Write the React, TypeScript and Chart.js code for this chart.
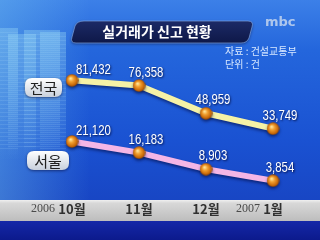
import React, { useEffect, useRef } from "react";
import { Chart, registerables } from "chart.js";

Chart.register(...registerables);

const months = ["10월", "11월", "12월", "1월"];
const yearMarks = ["2006", "", "", "2007"];
const nationwide = [81432, 76358, 48959, 33749];
const seoul = [21120, 16183, 8903, 3854];
const seriesNames = ["전국", "서울"];
const titleText = "실거래가 신고 현황";
const sourceText = "자료 : 건설교통부";
const unitText = "단위 : 건";
const logoText = "mbc";

const KR = "'Noto Sans CJK KR', 'Noto Sans', sans-serif";
const NUM = "'Liberation Sans', Arial, sans-serif";

function makeBall(): HTMLCanvasElement {
  const c = document.createElement("canvas");
  c.width = 13;
  c.height = 13;
  const g = c.getContext("2d")!;
  const grad = g.createRadialGradient(5, 4.5, 0.5, 6.5, 6.5, 6.5);
  grad.addColorStop(0, "#ffe49a");
  grad.addColorStop(0.35, "#f2a030");
  grad.addColorStop(0.8, "#c86808");
  grad.addColorStop(1, "#8a4200");
  g.fillStyle = grad;
  g.beginPath();
  g.arc(6.5, 6.5, 6.2, 0, Math.PI * 2);
  g.fill();
  return c;
}

function roundRect(ctx: CanvasRenderingContext2D, x: number, y: number, w: number, h: number, r: number) {
  ctx.beginPath();
  ctx.moveTo(x + r, y);
  ctx.lineTo(x + w - r, y);
  ctx.quadraticCurveTo(x + w, y, x + w, y + r);
  ctx.lineTo(x + w, y + h - r);
  ctx.quadraticCurveTo(x + w, y + h, x + w - r, y + h);
  ctx.lineTo(x + r, y + h);
  ctx.quadraticCurveTo(x, y + h, x, y + h - r);
  ctx.lineTo(x, y + r);
  ctx.quadraticCurveTo(x, y, x + r, y);
  ctx.closePath();
}

const decorPlugin = {
  id: "decor",
  beforeDraw(chart: any) {
    const ctx: CanvasRenderingContext2D = chart.ctx;
    const W = chart.width;
    const H = chart.height;
    ctx.save();
    // background
    const bg = ctx.createLinearGradient(0, 0, 0, 200);
    bg.addColorStop(0, "#3c80e8");
    bg.addColorStop(0.25, "#2466dc");
    bg.addColorStop(0.7, "#1a52d2");
    bg.addColorStop(1, "#1846c4");
    ctx.fillStyle = bg;
    ctx.fillRect(0, 0, W, 200);
    const side = ctx.createLinearGradient(0, 0, 90, 0);
    side.addColorStop(0, "rgba(120,200,240,0.38)");
    side.addColorStop(1, "rgba(120,200,240,0)");
    ctx.fillStyle = side;
    ctx.fillRect(0, 0, 90, 200);
    // faint buildings
    const blds = [
      [0, 28, 18],
      [8, 34, 28],
      [24, 30, 36],
      [40, 32, 26],
    ];
    for (const [bx, by, bw] of blds) {
      const bgr = ctx.createLinearGradient(0, by, 0, 160);
      bgr.addColorStop(0, "rgba(150,215,245,0.38)");
      bgr.addColorStop(1, "rgba(150,215,245,0)");
      ctx.fillStyle = bgr;
      ctx.fillRect(bx, by, bw, 160 - by);
      ctx.strokeStyle = "rgba(200,240,255,0.12)";
      ctx.lineWidth = 1;
      for (let yy = by + 4; yy < 150; yy += 4) {
        ctx.beginPath();
        ctx.moveTo(bx, yy + 0.5);
        ctx.lineTo(bx + bw, yy + 0.5);
        ctx.stroke();
      }
    }
    // bottom gray band
    const band = ctx.createLinearGradient(0, 200, 0, 221);
    band.addColorStop(0, "#f0f0f0");
    band.addColorStop(0.15, "#d8d8d8");
    band.addColorStop(1, "#bdbdbd");
    ctx.fillStyle = band;
    ctx.fillRect(0, 200, W, 21);
    const navy = ctx.createLinearGradient(0, 221, 0, H);
    navy.addColorStop(0, "#1428a8");
    navy.addColorStop(1, "#0c1a8c");
    ctx.fillStyle = navy;
    ctx.fillRect(0, 221, W, H - 221);
    // year marks
    const xs = chart.scales.x;
    ctx.font = "12px 'Liberation Serif', 'DejaVu Serif', serif";
    ctx.fillStyle = "#4a4a4a";
    ctx.textAlign = "right";
    ctx.textBaseline = "alphabetic";
    yearMarks.forEach((ym, i) => {
      if (!ym) return;
      const px = xs.getPixelForValue(i);
      ctx.fillText(ym, px - 13 + (i === 0 ? -4 : 0), 212);
    });
    // title banner
    ctx.save();
    ctx.shadowColor = "rgba(0,0,30,0.5)";
    ctx.shadowBlur = 3;
    ctx.shadowOffsetY = 1;
    ctx.beginPath();
    ctx.moveTo(84, 21);
    ctx.lineTo(248, 21);
    ctx.quadraticCurveTo(254, 21, 252, 27);
    ctx.lineTo(249, 38);
    ctx.quadraticCurveTo(247, 43, 241, 43);
    ctx.lineTo(76, 43);
    ctx.quadraticCurveTo(70, 43, 72, 37);
    ctx.lineTo(75, 26);
    ctx.quadraticCurveTo(77, 21, 84, 21);
    ctx.closePath();
    const tb = ctx.createLinearGradient(0, 21, 0, 43);
    tb.addColorStop(0, "#1c2a66");
    tb.addColorStop(1, "#0e1848");
    ctx.fillStyle = tb;
    ctx.fill();
    ctx.restore();
    ctx.strokeStyle = "rgba(140,180,240,0.6)";
    ctx.lineWidth = 1;
    ctx.stroke();
    ctx.fillStyle = "#ffffff";
    ctx.font = `bold 14px ${KR}`;
    ctx.textAlign = "center";
    ctx.textBaseline = "middle";
    ctx.fillText(titleText, 157, 32);
    // logo
    ctx.font = "bold 13px 'DejaVu Sans', sans-serif";
    ctx.fillStyle = "rgba(215,225,240,0.75)";
    ctx.textAlign = "left";
    ctx.fillText(logoText, 265, 23);
    // source / unit
    ctx.font = `10px ${KR}`;
    ctx.fillStyle = "#d8e8ff";
    ctx.fillText(sourceText, 225, 51);
    ctx.fillText(unitText, 225, 64);
    ctx.restore();
  },
  beforeDatasetsDraw(chart: any) {
    const ctx = chart.ctx;
    ctx.save();
    ctx.shadowColor = "rgba(0,10,60,0.55)";
    ctx.shadowBlur = 3;
    ctx.shadowOffsetY = 2;
  },
  afterDatasetsDraw(chart: any) {
    chart.ctx.restore();
  },
  afterDraw(chart: any) {
    const ctx: CanvasRenderingContext2D = chart.ctx;
    ctx.save();
    // series pills
    const pills = [
      { x: 25, y: 78, w: 37, h: 19 },
      { x: 27, y: 151, w: 42, h: 19 },
    ];
    pills.forEach((p, i) => {
      ctx.save();
      ctx.shadowColor = "rgba(0,0,40,0.5)";
      ctx.shadowBlur = 3;
      ctx.shadowOffsetY = 1;
      roundRect(ctx, p.x, p.y, p.w, p.h, 7);
      const pg = ctx.createLinearGradient(0, p.y, 0, p.y + p.h);
      pg.addColorStop(0, "#ffffff");
      pg.addColorStop(1, "#c8d0dc");
      ctx.fillStyle = pg;
      ctx.fill();
      ctx.restore();
      ctx.fillStyle = "#202020";
      ctx.font = `15px ${KR}`;
      ctx.textAlign = "center";
      ctx.textBaseline = "middle";
      ctx.fillText(seriesNames[i], p.x + p.w / 2, p.y + p.h / 2 + 0.5);
    });
    // value labels (horizontally condensed)
    ctx.font = `15px ${NUM}`;
    ctx.textBaseline = "middle";
    const sx = 0.76;
    chart.data.datasets.forEach((ds: any, di: number) => {
      const meta = chart.getDatasetMeta(di);
      meta.data.forEach((pt: any, i: number) => {
        const v = ds.data[i] as number;
        const txt = v.toLocaleString("en-US");
        ctx.save();
        ctx.fillStyle = "#ffffff";
        ctx.shadowColor = "rgba(0,10,60,0.85)";
        ctx.shadowBlur = 2;
        ctx.shadowOffsetX = 1;
        ctx.shadowOffsetY = 1;
        let ax: number, ay: number;
        if (i === 0) {
          ctx.textAlign = "left";
          ax = pt.x + 4;
          ay = pt.y - 11;
        } else {
          ctx.textAlign = "center";
          ax = pt.x + 7;
          ay = pt.y - 13;
        }
        ctx.translate(ax, ay);
        ctx.scale(sx, 1);
        ctx.fillText(txt, 0, 0);
        ctx.restore();
      });
    });
    ctx.restore();
  },
};

export default function App() {
  const ref = useRef<HTMLCanvasElement | null>(null);
  useEffect(() => {
    document.body.style.margin = "0";
    const ball = makeBall();
    const chart = new Chart(ref.current!, {
      type: "line",
      data: {
        labels: months,
        datasets: [
          {
            label: seriesNames[0],
            data: nationwide,
            yAxisID: "y",
            borderColor: "#f6f2a6",
            borderWidth: 6,
            pointStyle: ball as any,
            pointRadius: 6,
            tension: 0,
            clip: false as any,
          },
          {
            label: seriesNames[1],
            data: seoul,
            yAxisID: "y2",
            borderColor: "#f4b6e6",
            borderWidth: 6,
            pointStyle: ball as any,
            pointRadius: 6,
            tension: 0,
            clip: false as any,
          },
        ],
      },
      options: {
        responsive: false,
        animation: false,
        events: [],
        layout: { padding: { left: 72, right: 47, top: 0, bottom: 17 } },
        plugins: { legend: { display: false }, tooltip: { enabled: false }, title: { display: false } },
        scales: {
          x: {
            type: "category",
            offset: false,
            grid: { display: false, drawTicks: false },
            border: { display: false },
            ticks: {
              padding: 6,
              color: "#303030",
              font: { family: "'Noto Sans CJK KR', sans-serif", size: 13, weight: "bold" },
              maxRotation: 0,
            },
          },
          y: { display: false, min: -32108, max: 148909 },
          y2: { display: false, min: -2650, max: 78137 },
        },
      },
      plugins: [decorPlugin],
    });
    return () => chart.destroy();
  }, []);
  return (
    <div style={{ width: 320, height: 240 }}>
      <canvas ref={ref} width={320} height={240} style={{ display: "block" }} />
    </div>
  );
}
